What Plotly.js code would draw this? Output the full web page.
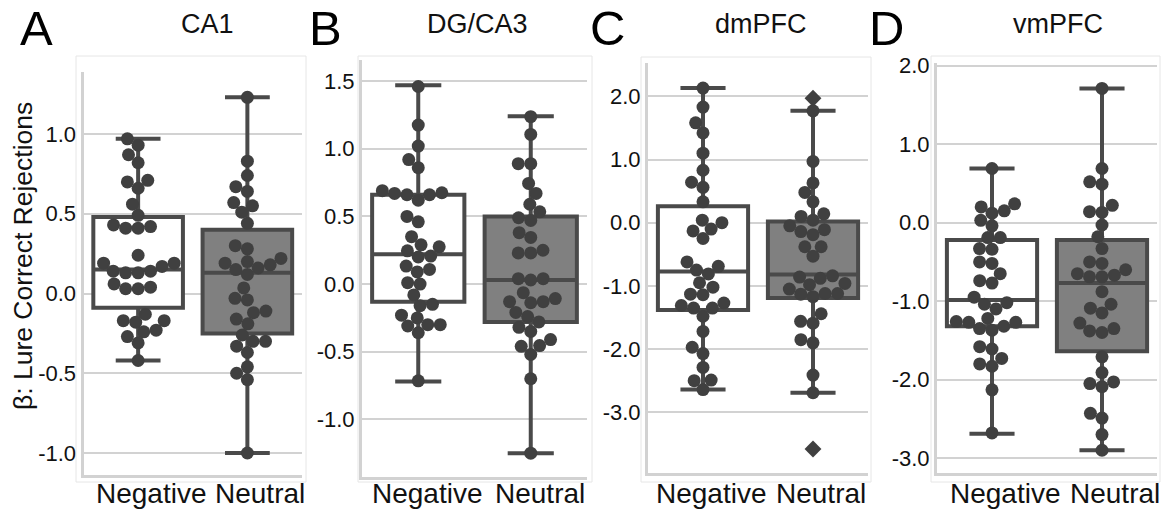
<!DOCTYPE html>
<html>
<head>
<meta charset="utf-8">
<script src="https://cdn.plot.ly/plotly-3.0.1.min.js"></script>
<style>html,body{margin:0;padding:0;background:#fff;}#chart{width:1169px;height:512px;}</style>
</head>
<body>
<div id="chart"></div>
<script>
// ---------------- DATA ----------------
const panelLetters = ["A", "B", "C", "D"];
const regions = ["CA1", "DG/CA3", "dmPFC", "vmPFC"];
const conditions = ["Negative", "Neutral"];
const yLabel = "β: Lure Correct Rejections";

const ca1Negative = [0.97,0.93,0.87,0.82,0.70,0.71,0.66,0.56,0.49,0.43,0.41,0.41,0.42,0.24,0.19,0.19,0.17,0.14,0.14,0.13,0.13,0.06,0.03,0.03,0.04,-0.13,-0.17,-0.17,-0.18,-0.27,-0.24,-0.23,-0.31,-0.42];
const ca1Neutral  = [1.23,0.83,0.74,0.67,0.64,0.55,0.57,0.51,0.44,0.28,0.30,0.22,0.20,0.18,0.15,0.12,0.16,0.19,0.035,-0.04,-0.03,-0.11,-0.12,-0.16,-0.19,-0.26,-0.33,-0.30,-0.30,-0.37,-0.46,-0.50,-0.54,-1.0];
const dgNegative  = [1.46,1.175,1.02,0.92,0.86,0.675,0.66,0.62,0.66,0.67,0.69,0.50,0.46,0.35,0.29,0.275,0.246,0.20,0.207,0.133,0.09,0.108,0.01,0.0,-0.08,-0.16,-0.15,-0.23,-0.25,-0.31,-0.30,-0.30,-0.36,-0.715];
const dgNeutral   = [1.237,1.106,0.89,0.89,0.744,0.67,0.59,0.534,0.49,0.47,0.38,0.345,0.23,0.23,0.25,0.04,0.03,0.04,-0.064,-0.107,-0.138,-0.13,-0.13,-0.21,-0.24,-0.28,-0.32,-0.35,-0.41,-0.46,-0.455,-0.52,-0.70,-1.25];
const dmNegative  = [2.13,1.83,1.58,1.42,1.10,0.83,0.64,0.56,0.33,0.04,0.0,-0.13,-0.10,-0.25,-0.62,-0.69,-0.75,-0.81,-0.95,-1.02,-1.13,-1.14,-1.27,-1.35,-1.35,-1.31,-1.48,-1.72,-1.97,-2.07,-2.29,-2.50,-2.49,-2.64];
const dmNeutral   = [1.77,0.97,0.63,0.48,0.33,0.14,0.10,0.04,-0.05,-0.14,-0.11,-0.19,-0.38,-0.38,-0.53,-0.84,-0.86,-0.88,-0.96,-0.98,-1.05,-1.12,-1.17,-1.12,-1.13,-1.44,-1.56,-1.59,-1.85,-1.90,-2.41,-2.69];
const vmNegative  = [0.69,0.24,0.20,0.12,0.15,0.03,-0.04,-0.19,-0.19,-0.33,-0.34,-0.50,-0.52,-0.65,-0.74,-0.77,-0.95,-1.04,-1.02,-1.10,-1.22,-1.26,-1.27,-1.35,-1.37,-1.32,-1.27,-1.58,-1.61,-1.73,-1.80,-1.83,-2.13,-2.68];
const vmNeutral   = [1.71,0.69,0.52,0.49,0.22,0.13,0.14,-0.03,-0.18,-0.33,-0.50,-0.52,-0.65,-0.69,-0.69,-0.67,-0.60,-0.88,-1.09,-1.04,-1.15,-1.28,-1.38,-1.40,-1.35,-1.71,-1.91,-2.05,-2.09,-2.03,-2.43,-2.49,-2.70,-2.90];

// box statistics: [Negative, Neutral]
const q1Values     = [[-0.09,-0.25],[-0.13,-0.28],[-1.38,-1.19],[-1.32,-1.64]];
const medianValues = [[0.15,0.13],[0.22,0.03],[-0.77,-0.82],[-0.985,-0.77]];
const q3Values     = [[0.48,0.40],[0.66,0.50],[0.26,0.02],[-0.22,-0.22]];
const lowWhisker   = [[-0.42,-1.0],[-0.72,-1.25],[-2.64,-2.69],[-2.69,-2.90]];
const highWhisker  = [[0.97,1.23],[1.47,1.24],[2.13,1.77],[0.69,1.71]];
// outliers (dmPFC Neutral)
const outlierValues = [[[],[]],[[],[]],[[],[1.97,-3.58]],[[],[]]];

const tickValues = [
  [-1.0,-0.5,0.0,0.5,1.0],
  [-1.0,-0.5,0.0,0.5,1.0,1.5],
  [-3.0,-2.0,-1.0,0.0,1.0,2.0],
  [-3.0,-2.0,-1.0,0.0,1.0,2.0]
];
const tickLabels = [
  ["-1.0","-0.5","0.0","0.5","1.0"],
  ["-1.0","-0.5","0.0","0.5","1.0","1.5"],
  ["-3.0","-2.0","-1.0","0.0","1.0","2.0"],
  ["-3.0","-2.0","-1.0","0.0","1.0","2.0"]
];
const seriesByPanel = [
  [ca1Negative, ca1Neutral],
  [dgNegative, dgNeutral],
  [dmNegative, dmNeutral],
  [vmNegative, vmNeutral]
];

// ---------------- LAYOUT GEOMETRY (pixels) ----------------
const W = 1169, H = 512;
const geo = [
  {x0:83.5, x1:302, y0:72, y1:475, yr:[-1.138,1.389], frame:[76,56,306,482], letterX:18, titleX:207, labShift:13},
  {x0:362,  x1:587, y0:60, y1:477, yr:[-1.426,1.656], frame:[358,56,592,482], letterX:307, titleX:477, labShift:9},
  {x0:648,  x1:868, y0:63, y1:473, yr:[-3.96,2.527],  frame:[641,57,871,482], letterX:588, titleX:761, labShift:8},
  {x0:937,  x1:1157,y0:63, y1:473, yr:[-3.19,2.034],  frame:[931,56,1160,482], letterX:867, titleX:1058, labShift:13}
];
const FONT = "Liberation Sans, Arial, sans-serif";
const lineColor = "#4a4a4a";
const dotColor = "#404040";
const fills = ["#ffffff", "#808080"];
const gridColor = "#d2d2d2";
const DOT = 13;

function swarm(values, pxPerY, d) {
  const n = values.length;
  const order = values.map((v,i)=>i).sort((a,b)=>values[a]-values[b]);
  const placed = [];
  const off = new Array(n);
  order.forEach(i => {
    const y = values[i]*pxPerY;
    const cands = [0];
    placed.forEach(p => {
      const dy = y - p.y;
      if (Math.abs(dy) < d) {
        const dx = Math.sqrt(d*d - dy*dy);
        cands.push(p.x + dx, p.x - dx);
      }
    });
    cands.sort((a,b)=>Math.abs(a)-Math.abs(b) || a-b);
    let chosen = cands[0];
    for (const c of cands) {
      if (placed.every(p => (c-p.x)*(c-p.x)+(y-p.y)*(y-p.y) >= d*d - 1e-6)) { chosen = c; break; }
    }
    placed.push({x:chosen, y:y});
    off[i] = chosen;
  });
  return off;
}

const traces = [];
const layout = {
  width: W, height: H,
  margin: {l:0, r:0, t:0, b:0},
  paper_bgcolor: "#ffffff",
  plot_bgcolor: "rgba(0,0,0,0)",
  showlegend: false,
  font: {family: FONT, color: "#111111"},
  annotations: [],
  shapes: []
};

geo.forEach((g, p) => {
  const ax = p === 0 ? "" : String(p+1);
  const xa = "x" + ax, ya = "y" + ax;
  const pxPerX = (g.x1 - g.x0) / 2;
  const pxPerY = (g.y1 - g.y0) / (g.yr[1] - g.yr[0]);

  conditions.forEach((c, k) => {
    traces.push({
      type: "box", xaxis: xa, yaxis: ya,
      x: [k],
      q1: [q1Values[p][k]], median: [medianValues[p][k]], q3: [q3Values[p][k]],
      lowerfence: [lowWhisker[p][k]], upperfence: [highWhisker[p][k]],
      width: 0.82, whiskerwidth: 0.5,
      boxpoints: false,
      fillcolor: fills[k],
      line: {color: lineColor, width: 4},
      hoverinfo: "skip"
    });
  });
  conditions.forEach((c, k) => {
    const vals = seriesByPanel[p][k];
    const offs = swarm(vals, pxPerY, 12.5);
    traces.push({
      type: "scatter", mode: "markers", xaxis: xa, yaxis: ya,
      x: offs.map(o => k + o / pxPerX),
      y: vals,
      marker: {color: dotColor, size: DOT, line: {width: 0}},
      hoverinfo: "skip"
    });
    const outs = outlierValues[p][k];
    if (outs.length) {
      traces.push({
        type: "scatter", mode: "markers", xaxis: xa, yaxis: ya,
        x: outs.map(() => k), y: outs,
        marker: {color: dotColor, size: 13, symbol: "diamond", line: {width: 0}},
        hoverinfo: "skip"
      });
    }
    layout.annotations.push({
      xref: xa, yref: "paper", x: k, y: 1 - 493 / H,
      xanchor: "center", yanchor: "middle", showarrow: false, xshift: g.labShift,
      text: c, font: {size: 28, family: FONT, color: "#111"}
    });
  });

  layout["xaxis" + ax] = {
    domain: [g.x0 / W, g.x1 / W],
    range: [-0.5, 1.5],
    anchor: ya,
    showticklabels: false,
    showgrid: false, zeroline: false,
    showline: true, linecolor: gridColor, linewidth: 3,
    ticks: "",
    fixedrange: true
  };
  layout["yaxis" + ax] = {
    domain: [1 - g.y1 / H, 1 - g.y0 / H],
    range: g.yr,
    anchor: xa,
    tickvals: tickValues[p], ticktext: tickLabels[p],
    tickfont: {size: 22, family: FONT, color: "#111"},
    showgrid: true, gridcolor: gridColor, gridwidth: 2,
    zeroline: false,
    showline: true, linecolor: gridColor, linewidth: 3,
    ticks: "", ticklabelstandoff: 0,
    fixedrange: true
  };

  layout.shapes.push({
    type: "rect", xref: "paper", yref: "paper", layer: "below",
    x0: g.frame[0] / W, x1: g.frame[2] / W, y0: 1 - g.frame[3] / H, y1: 1 - g.frame[1] / H,
    line: {color: "#e6e6e6", width: 1}, fillcolor: "rgba(0,0,0,0)"
  });

  layout.annotations.push({
    xref: "paper", yref: "paper", x: g.letterX / W, y: 1 - 27.5 / H,
    xanchor: "left", yanchor: "middle", showarrow: false,
    text: panelLetters[p], font: {size: 49, family: FONT, color: "#000"}
  });
  layout.annotations.push({
    xref: "paper", yref: "paper", x: g.titleX / W, y: 1 - 24 / H,
    xanchor: "center", yanchor: "middle", showarrow: false,
    text: regions[p], font: {size: 27, family: FONT, color: "#111"}
  });
});

layout.annotations.push({
  xref: "paper", yref: "paper", x: 23 / W, y: 1 - 256 / H,
  xanchor: "center", yanchor: "middle", showarrow: false, textangle: -90,
  text: yLabel, font: {size: 26.5, family: FONT, color: "#111"}
});

Plotly.newPlot("chart", traces, layout, {displayModeBar: false, staticPlot: true});
</script>
</body>
</html>
